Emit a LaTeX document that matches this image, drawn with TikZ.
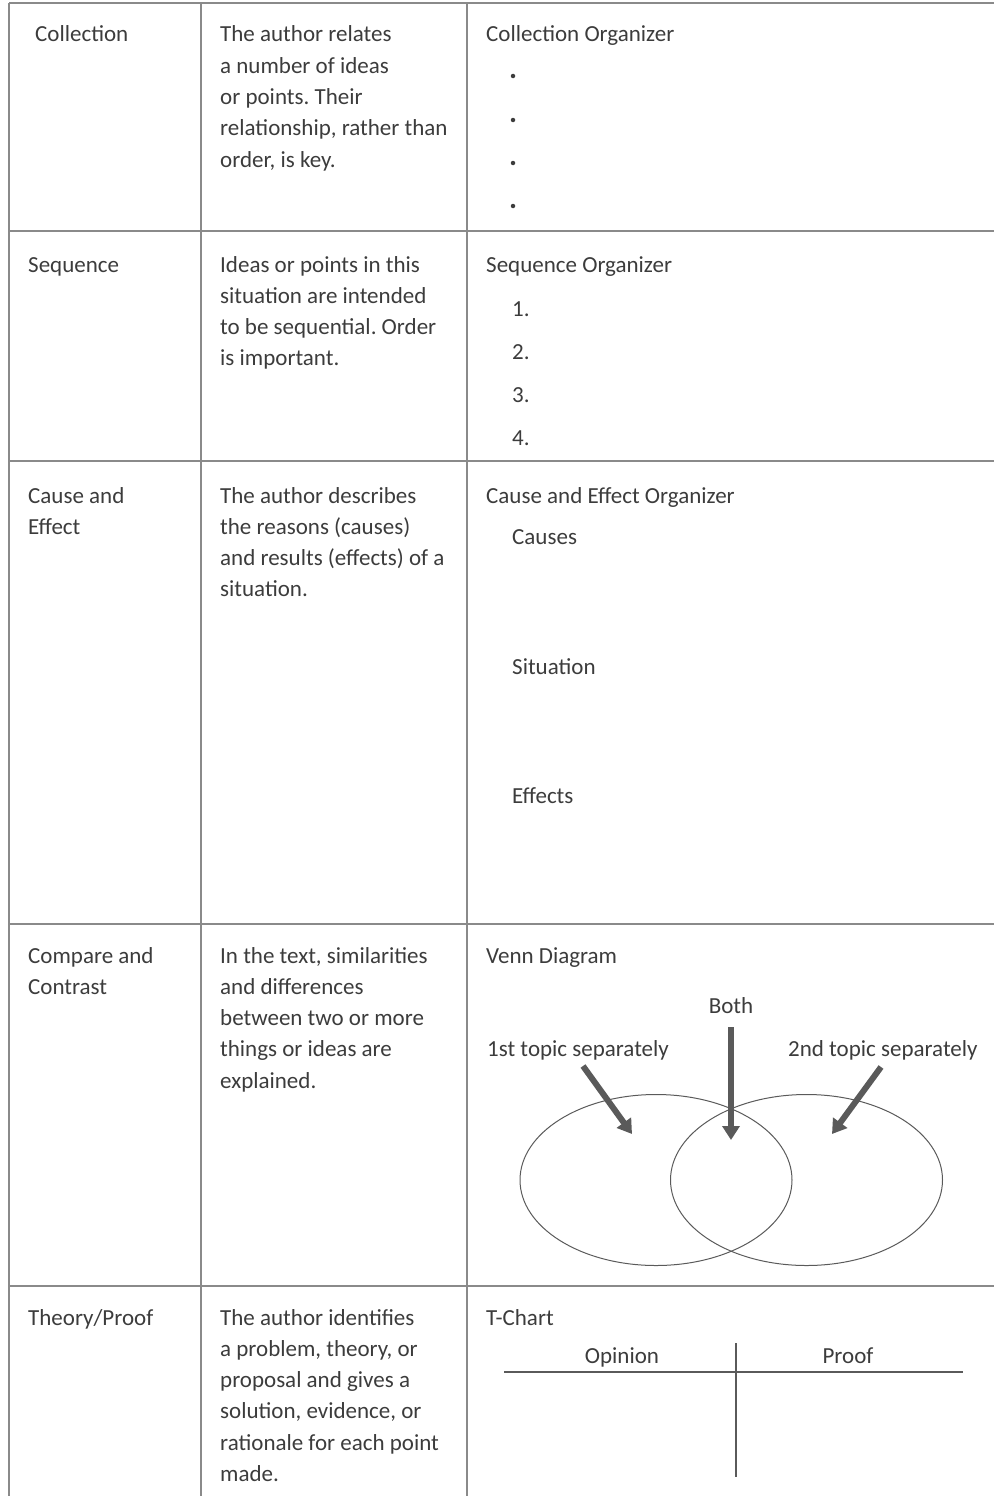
\documentclass[tikz,border=0pt]{standalone}
\usepackage{fontspec}
\setmainfont{Carlito}
\usetikzlibrary{arrows.meta, shapes.geometric, positioning}

\definecolor{rule}{HTML}{8A8A8A}
\definecolor{ink}{HTML}{3C3C3C}
\definecolor{pointer}{HTML}{5A5A5A}
\newcommand{\celllines}[1]{\begin{tabular}[t]{@{}l@{}}#1\end{tabular}}
\frenchspacing

\begin{document}
\begin{tikzpicture}[x=1pt,y=-1pt,
 every node/.style={inner sep=0pt,text=ink,font=\fontsize{23}{31.3}\selectfont\frenchspacing},
 cell text/.style={anchor=base west},
 dot/.style={circle,fill=ink,minimum size=4.5pt},
 venn/.style={ellipse,draw=pointer,line width=1pt,minimum width=272pt,minimum height=171pt},
 fat arrow/.style={draw=pointer,line width=6pt,-{Triangle[width=17pt,length=14pt]}},
 tee/.style={draw=pointer,line width=1.2pt}]

  \useasboundingbox (0,0) rectangle (993,1496);

  % table rules
  \foreach \y in {3,231,461,924,1286}
   \draw[rule,line width=2pt] (9,\y) -- (1000,\y);
  \foreach \x in {9,201,467}
   \draw[rule,line width=2pt] (\x,3) -- (\x,1500);

  % first column
  \node[cell text] (Collection) at (35,42) {Collection};
  \node[cell text] (Sequence) at (28,272) {Sequence};
  \node[cell text] (Cause) at (28,503) {\celllines{Cause and\\Effect}};
  \node[cell text] (Compare) at (28,963) {\celllines{Compare and\\Contrast}};
  \node[cell text] (Theory) at (28,1325) {Theory/Proof};

  % second column
  \node[cell text] (Collection desc) at (220,42) {\celllines{The author relates\\a number of ideas\\or points. Their\\relationship, rather than\\order, is key.}};
  \node[cell text] (Sequence desc) at (220,272) {\celllines{Ideas or points in this\\situation are intended\\to be sequential. Order\\is important.}};
  \node[cell text] (Cause desc) at (220,503) {\celllines{The author describes\\the reasons (causes)\\and results (effects) of a\\situation.}};
  \node[cell text] (Compare desc) at (220,963) {\celllines{In the text, similarities\\and differences\\between two or more\\things or ideas are\\explained.}};
  \node[cell text] (Theory desc) at (220,1325) {\celllines{The author identifies\\a problem, theory, or\\proposal and gives a\\solution, evidence, or\\rationale for each point\\made.}};

  % third column: organizers
  \node[cell text] (Collection org) at (486,42) {Collection Organizer};
  \foreach \n/\y in {1/76,2/120,3/163,4/206}
   \node[dot] (b\n) at (513,\y) {};

  \node[cell text] (Sequence org) at (486,272) {Sequence Organizer};
  \foreach \n/\y in {1/316,2/359,3/402,4/445}
   \node[cell text] (s\n) at (512,\y) {\n.};

  \node[cell text] (Cause org) at (486,503) {Cause and Effect Organizer};
  \node[cell text] (Causes) at (512,544) {Causes};
  \node[cell text] (Situation) at (512,674) {Situation};
  \node[cell text] (Effects) at (512,803) {Effects};

  % venn diagram
  \node[cell text] (Venn org) at (486,963) {Venn Diagram};
  \node[anchor=base] (Both) at (731,1013) {Both};
  \node[cell text] (1st) at (487,1056) {1st topic separately};
  \node[cell text] (2nd) at (788,1056) {2nd topic separately};
  \node[venn] (left set) at (656,1180) {};
  \node[venn] (right set) at (806.5,1180) {};

  \coordinate (1st tail) at (583,1066);
  \coordinate (1st tip) at (632,1134);
  \coordinate (Both tail) at (731,1027);
  \coordinate (Both tip) at (731,1140);
  \coordinate (2nd tail) at (881,1067);
  \coordinate (2nd tip) at (832,1134);
  \foreach \s/\t in {1st tail/1st tip, Both tail/Both tip, 2nd tail/2nd tip}
   \path[fat arrow] (\s) -- (\t);

  % t-chart
  \node[cell text] (T org) at (486,1325) {T-Chart};
  \node[anchor=base] (Opinion) at (622,1363) {Opinion};
  \node[anchor=base] (Proof) at (848,1363) {Proof};
  \coordinate (bar left) at (504,1372);
  \coordinate (bar right) at (963,1372);
  \coordinate (stem top) at (736,1343);
  \coordinate (stem bottom) at (736,1477);
  \path[tee] (bar left) edge (bar right)
             (stem top) edge (stem bottom);
 \end{tikzpicture}
\end{document}
